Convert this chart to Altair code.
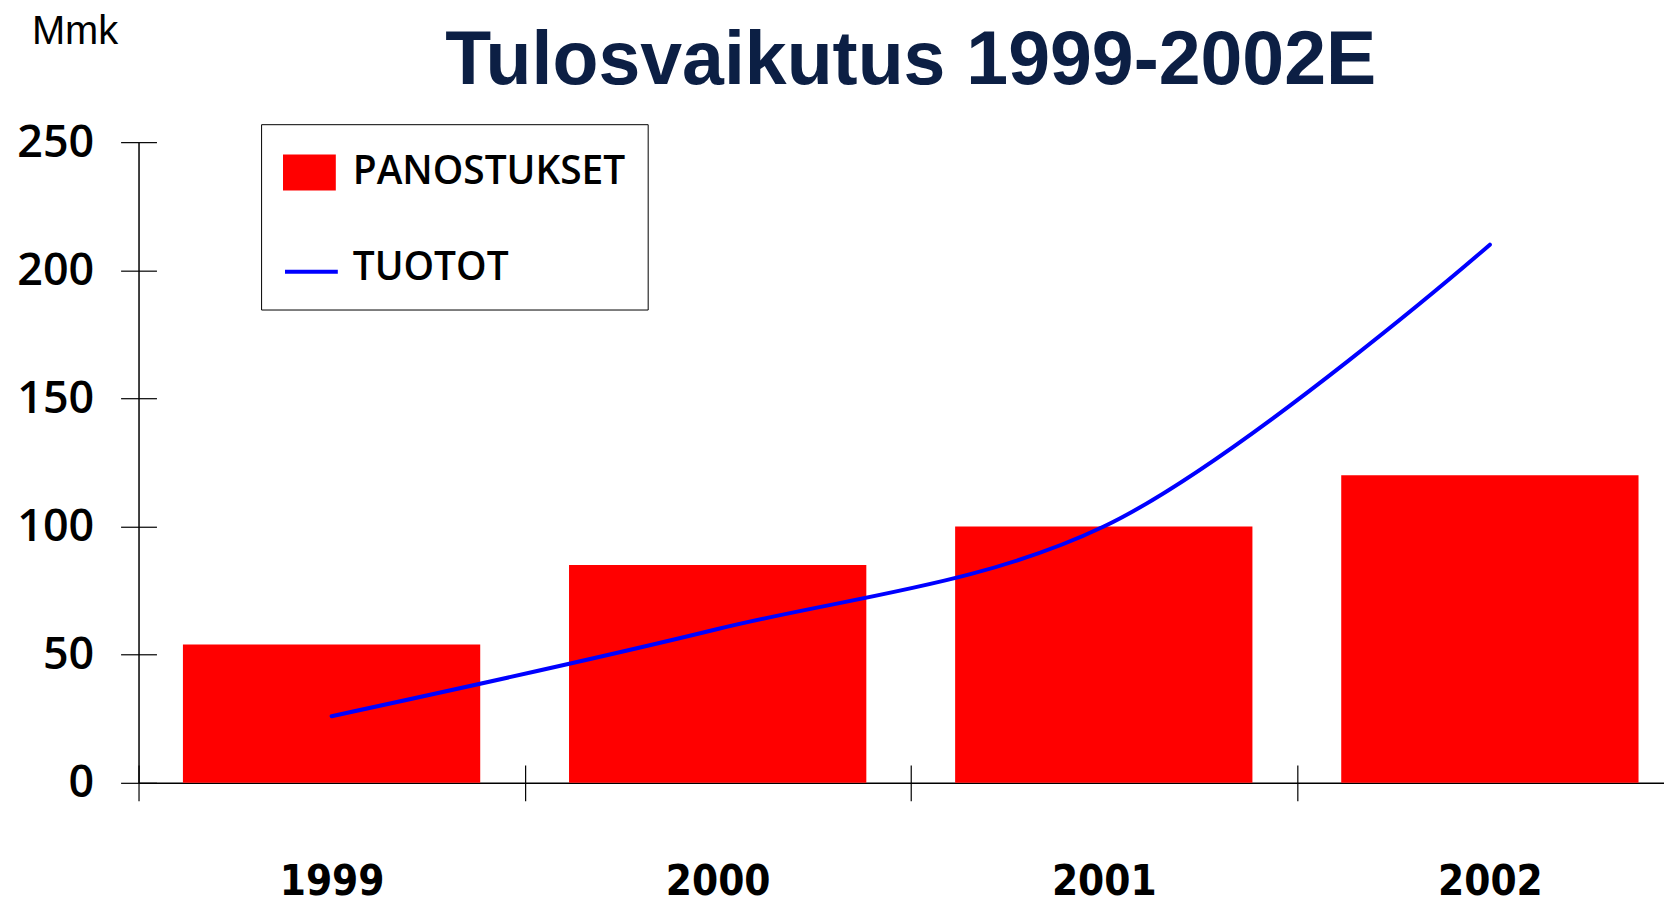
import altair as alt
import pandas as pd

years = ["1999", "2000", "2001", "2002"]
panostukset = [54, 85, 100, 120]
tuotot = [26, 60, 100, 210]
series_names = ["Panostukset", "Tuotot"]
y_ticks = [0, 50, 100, 150, 200, 250]
title_text = "Tulosvaikutus 1999-2002E"
unit_text = "Mmk"

rows = []
for yr, v in zip(years, panostukset):
    rows.append({"year": yr, "series": series_names[0], "value": v})
for yr, v in zip(years, tuotot):
    rows.append({"year": yr, "series": series_names[1], "value": v})
df = pd.DataFrame(rows)

PLOT_W = 1550
PLOT_H = 643
PAD_IN = 0.23
PAD_OUT = 0.115
step = PLOT_W / (len(years) - PAD_IN + 2 * PAD_OUT)

x_enc = alt.X(
    "year:O",
    sort=years,
    scale=alt.Scale(paddingInner=PAD_IN, paddingOuter=PAD_OUT),
    axis=alt.Axis(
        title=None,
        labelAngle=0,
        tickOffset=-step / 2,
        labelOffset=step / 2,
        labelFont="DejaVu Sans Condensed",
        labelFontWeight="bold",
        labelFontSize=42,
        labelColor="black",
        labelBaseline="alphabetic",
        labelPadding=94,
        tickSize=18,
        tickColor="black",
        tickWidth=1.2,
        domainColor="black",
        domainWidth=1.5,
        grid=True,
        gridColor="black",
        gridWidth=1.2,
        gridDash=[0, PLOT_H - 18, 18, 3000],
    ),
)
y_enc = alt.Y(
    "value:Q",
    scale=alt.Scale(domain=[0, 250], nice=False),
    axis=alt.Axis(
        title=None,
        values=y_ticks,
        labelFont="Open Sans",
        labelFontWeight=600,
        labelFontSize=45,
        labelColor="black",
        labelPadding=27,
        tickSize=18,
        tickColor="black",
        tickWidth=1.2,
        domainColor="black",
        domainWidth=1.5,
        grid=True,
        gridColor="black",
        gridWidth=1.2,
        gridDash=[18, 3000],
    ),
)

legend_common = dict(
    orient="none",
    legendX=123,
    legendY=-18,
    title=None,
    labelFont="Open Sans",
    labelFontWeight=600,
    labelFontSize=39,
    labelOffset=17,
    labelLimit=600,
    padding=22,
    rowPadding=48.5,
    symbolSize=2809,
)

bars = (
    alt.Chart(df)
    .transform_filter(alt.datum.series == series_names[0])
    .mark_bar()
    .encode(
        x=x_enc,
        y=y_enc,
        fill=alt.Fill(
            "series:N",
            scale=alt.Scale(domain=series_names, range=["#ff0000", "transparent"]),
            legend=alt.Legend(
                symbolType="M-1,-0.68H1V0.68H-1Z",
                labelColor="black",
                labelExpr="upper(datum.label)",
                strokeColor="black",
                symbolStrokeWidth=0,
                **legend_common,
            ),
        ),
    )
)

# the line's legend sits exactly on top of the bar legend and only adds the blue stroke
line_domain = [" ", series_names[1]]
line = (
    alt.Chart(df)
    .transform_filter(alt.datum.series == series_names[1])
    .mark_line(strokeWidth=4, interpolate="catmull-rom", strokeCap="round")
    .encode(
        x=alt.X("year:O", sort=years),
        y=alt.Y("value:Q"),
        stroke=alt.Stroke(
            "series:N",
            scale=alt.Scale(domain=line_domain, range=["transparent", "#0000ff"]),
            legend=alt.Legend(
                symbolType="M-1,0L1,0",
                labelColor="transparent",
                labelExpr="' '",
                symbolStrokeWidth=4,
                **legend_common,
            ),
        ),
    )
)

title_layer = (
    alt.Chart(pd.DataFrame({"t": [title_text]}))
    .mark_text(
        font="Liberation Sans",
        fontWeight="bold",
        fontSize=75.5,
        color="#0c1f44",
        align="center",
        baseline="alphabetic",
    )
    .encode(x=alt.value(775), y=alt.value(-58), text="t:N")
)

unit_layer = (
    alt.Chart(pd.DataFrame({"t": [unit_text]}))
    .mark_text(
        font="Liberation Sans",
        fontSize=40,
        color="black",
        align="left",
        baseline="alphabetic",
    )
    .encode(x=alt.value(-107), y=alt.value(-98), text="t:N")
)

chart = (
    alt.layer(bars, line, title_layer, unit_layer)
    .properties(
        width=PLOT_W,
        height=PLOT_H,
        padding={"left": 131, "top": 133, "right": -19, "bottom": 121},
        autosize=alt.AutoSizeParams(type="none"),
        background="white",
    )
    .configure_view(stroke="transparent")
)

chart.save("out.html", embed_options={"renderer": "svg", "actions": False})
